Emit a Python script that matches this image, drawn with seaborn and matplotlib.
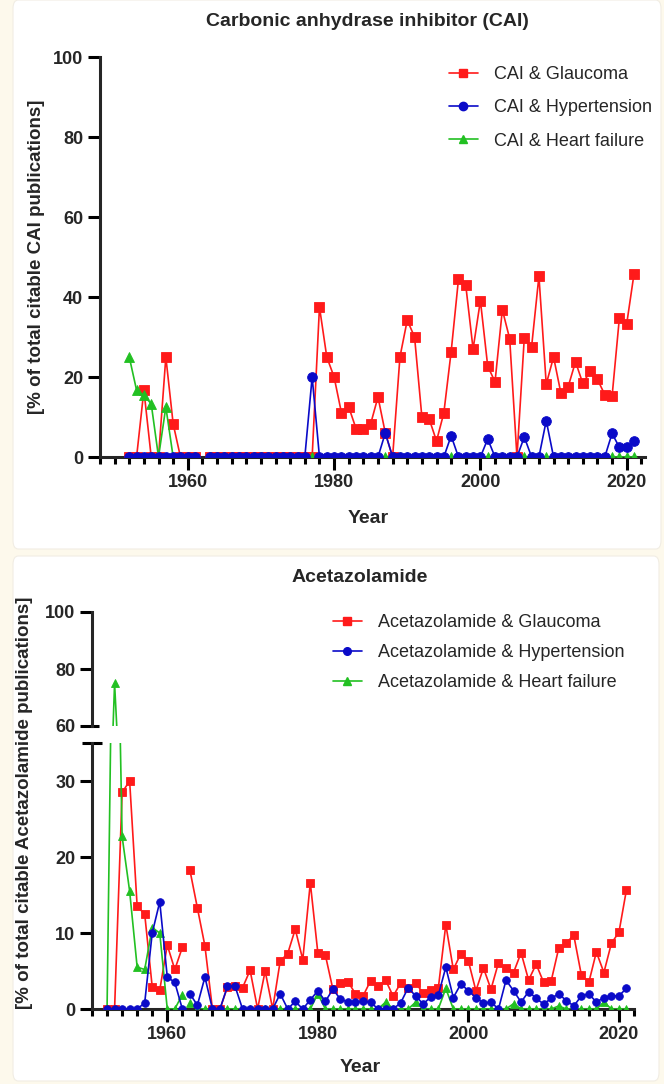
import numpy as np
import pandas as pd
import matplotlib
matplotlib.use("Agg")
import matplotlib.pyplot as plt
import seaborn as sns
from matplotlib.lines import Line2D
from matplotlib.patches import FancyBboxPatch
from matplotlib.ticker import MultipleLocator

nan = np.nan
years = list(range(1952, 2022))

# ---- Top panel: Carbonic anhydrase inhibitor (CAI) ----
cai_glaucoma = [0, 0, 16.7, 0, 0, 25, 8.3, 0, 0, 0, nan,
                0, 0, 0, 0, 0, 0, 0, 0, 0, 0, 0, 0, 0, 0,
                0, 37.5, 25, 20, 11.1, 12.5, 7.1, 7.1, 8.3, 15, 6.0, 0,
                25, 34.2, 30, 10, 9.5, 4, 11, 26.3, 44.4, 42.9, 27, 39.1,
                22.7, 18.8, 36.8, 29.6, 0, 29.8, 27.6, 45.2, 18.2, 25, 16,
                17.6, 23.8, 18.4, 21.4, 19.4, 15.6, 15.2, 34.8, 33.3, 45.8]
cai_hypertension = [0, 0, 0, 0, 0, 0, 0, 0, 0, 0, nan,
                    0, 0, 0, 0, 0, 0, 0, 0, 0, 0, 0, 0, 0, 0,
                    20, 0, 0, 0, 0, 0, 0, 0, 0, 0, 6.0, 0,
                    0, 0, 0, 0, 0, 0, 0, 5.3, 0, 0, 0, 0,
                    4.5, 0, 0, 0, 0, 5.0, 0, 0, 9.1, 0, 0,
                    0, 0, 0, 0, 0, 0, 5.9, 2.4, 2.4, 4.0]
cai_heart = [25, 16.7, 15.4, 13.3, 0, 12.5, 0, 0, 0, 0, nan,
             0, 0, 0, 0, 0, 0, 0, 0, 0, 0, 0, 0, 0, 0,
             0, 0, 0, 0, 0, 0, 0, 0, 0, 0, 0, 0,
             0, 0, 0, 0, 0, 0, 0, 0, 0, 0, 0, 0,
             0, 0, 0, 0, 0, 0, 0, 0, 0, 0, 0,
             0, 0, 0, 0, 0, 0, 0, 0, 0, 0]

# ---- Bottom panel: Acetazolamide ----
acz_glaucoma = [0, 0, 28.5, 30.0, 13.5, 12.5, 2.9, 2.5, 8.4, 5.2,
                8.1, 18.3, 13.3, 8.3, 0, 0, 2.9, 3.0, 2.8, 5.1,
                0, 5.0, 0, 6.3, 7.3, 10.5, 6.5, 16.6, 7.4, 7.1,
                2.6, 3.4, 3.6, 2.0, 1.7, 3.7, 3.0, 3.8, 1.7, 3.4,
                2.7, 3.4, 2.1, 2.5, 2.7, 11.1, 5.2, 7.3, 6.3, 2.4,
                5.4, 2.6, 6.1, 5.4, 4.8, 7.4, 3.8, 5.9, 3.5, 3.7,
                8.0, 8.7, 9.7, 4.5, 3.5, 7.5, 4.8, 8.65, 10.1, 15.7]
acz_hypertension = [0, 0, 0, 0, 0, 0.8, 10.0, 14.1, 4.2, 3.5,
                    0, 2.0, 0.5, 4.2, 0, 0, 3.0, 3.0, 0, 0,
                    0, 0, 0, 2.0, 0, 1.0, 0, 1.2, 2.4, 1.0,
                    2.6, 1.3, 0.9, 0.9, 1.0, 0.9, 0, 0, 0, 0.8,
                    2.8, 1.7, 0.65, 1.6, 1.8, 5.5, 1.5, 3.3, 2.4, 1.5,
                    0.8, 0.9, 0, 3.8, 2.4, 0.9, 2.3, 1.4, 0.65, 1.4,
                    2.0, 1.1, 0.4, 1.7, 2.0, 0.9, 1.5, 1.7, 1.75, 2.7]
acz_heart = [0, 75, 22.7, 15.5, 5.5, 5.2, 10.7, 10.0, 0, 0,
             1.9, 0.8, 0, 0, 0, 0, 0, 0, 0, 0,
             0, 0, 0, 0, 0, 0, 0, 0, 2.0, 0,
             0, 0, 0, 0, 0, 0, 0, 0.9, 0, 0,
             0, 0.9, 0, 0, 0, 2.7, 0, 0, 0, 0,
             0, 0, 0, 0, 0.7, 0, 0, 0, 0, 0,
             0.4, 0, 0, 0, 0, 0, 0.9, 0, 0, 0]

cai_labels = ["CAI & Glaucoma", "CAI & Hypertension", "CAI & Heart failure"]
acz_labels = ["Acetazolamide & Glaucoma", "Acetazolamide & Hypertension",
              "Acetazolamide & Heart failure"]

RED, BLUE, GREEN = "#ff1a1a", "#0a0ac8", "#22c022"
colors = [RED, BLUE, GREEN]
markers = ["s", "o", "^"]

sns.set_theme(style="ticks")
plt.rcParams["font.family"] = ["Liberation Sans", "DejaVu Sans"]

W, H = 664, 1084
fig = plt.figure(figsize=(W / 100, H / 100), dpi=100)
fig.patch.set_facecolor("#fdf9ec")

# white cards
for (x0, y0, x1, y1) in [(13, 0, 661, 549), (13, 556, 659, 1081)]:
    fig.patches.append(FancyBboxPatch((x0 / W, 1 - y1 / H), (x1 - x0) / W, (y1 - y0) / H,
                                      boxstyle="round,pad=0,rounding_size=0.008",
                                      transform=fig.transFigure, facecolor="white",
                                      edgecolor="#f1ede4", lw=0.8, zorder=-5))


def fax(x0, y0, x1, y1):
    return fig.add_axes([x0 / W, 1 - y1 / H, (x1 - x0) / W, (y1 - y0) / H])


def draw(ax, series, ms):
    order = [0, 2, 1]  # red, green, blue on top
    for i in order:
        df = pd.DataFrame({"year": years, "value": series[i]})
        df["seg"] = (df["year"] > 1962).astype(int)
        df = df.dropna()
        sns.lineplot(data=df, x="year", y="value", units="seg", estimator=None,
                     color=colors[i], marker=markers[i], markersize=ms,
                     markeredgecolor=colors[i], markeredgewidth=0.6,
                     linewidth=1.2, ax=ax, legend=False, zorder=3 + order.index(i),
                     clip_on=True)


def style(ax, xaxis=True):
    for s in ["top", "right"]:
        ax.spines[s].set_visible(False)
    ax.spines["left"].set_linewidth(2.2)
    ax.spines["bottom"].set_linewidth(2.2)
    ax.set_facecolor("none")
    ax.tick_params(axis="both", which="major", direction="out", length=9, width=2.2,
                   labelsize=13, color="black", pad=3)
    ax.tick_params(axis="x", which="minor", direction="out", length=5, width=2.2,
                   color="black")
    for lab in ax.get_xticklabels() + ax.get_yticklabels():
        lab.set_fontweight("bold")
    ax.set_xlabel("")
    ax.set_ylabel("")
    if not xaxis:
        ax.spines["bottom"].set_visible(False)
        ax.tick_params(axis="x", which="both", bottom=False, labelbottom=False)


# ---------- top ----------
ax1 = fax(100, 57, 645, 457)
draw(ax1, [cai_glaucoma, cai_hypertension, cai_heart], 7)
ax1.set_xlim(1948, 2022.5)
ax1.set_ylim(0, 100)
ax1.set_yticks([0, 20, 40, 60, 80, 100])
ax1.set_xticks([1960, 1980, 2000, 2020])
ax1.xaxis.set_minor_locator(MultipleLocator(2))
ax1.tick_params(axis="x", pad=7)
style(ax1)
for t in ax1.get_xticklabels() + ax1.get_yticklabels():
    t.set_fontweight("bold")

h1 = [Line2D([], [], color=c, marker=m, ms=6, lw=1.2) for c, m in zip(colors, markers)]
ax1.legend(h1, cai_labels, loc="upper left", bbox_to_anchor=(449 / W, 1 - 66 / H),
           bbox_transform=fig.transFigure, frameon=False, fontsize=13,
           handlelength=1.6, handletextpad=0.9, labelspacing=0.9,
           borderpad=0, borderaxespad=0)

fig.text(367 / W, 1 - 22 / H, "Carbonic anhydrase inhibitor (CAI)", ha="center",
         va="center", fontsize=14, fontweight="bold")
fig.text(368 / W, 1 - 518 / H, "Year", ha="center", va="center", fontsize=14,
         fontweight="bold")
fig.text(37 / W, 1 - 257 / H, "[% of total citable CAI publications]", ha="center",
         va="center", rotation=90, fontsize=13.5, fontweight="bold")

# ---------- bottom (broken y axis) ----------
ax_up = fax(92, 612, 634, 726)
ax_lo = fax(92, 743, 634, 1009)
acz = [acz_glaucoma, acz_hypertension, acz_heart]
draw(ax_up, acz, 5.5)
draw(ax_lo, acz, 5.5)
for a in (ax_up, ax_lo):
    a.set_xlim(1950, 2022)
ax_up.set_ylim(60, 100)
ax_up.set_yticks([60, 80, 100])
ax_lo.set_ylim(0, 35)
ax_lo.set_yticks([0, 10, 20, 30])
ax_lo.set_xticks([1960, 1980, 2000, 2020])
ax_lo.xaxis.set_minor_locator(MultipleLocator(2))
ax_lo.tick_params(axis="x", pad=7)
style(ax_up, xaxis=False)
style(ax_lo)
for a in (ax_up, ax_lo):
    for t in a.get_xticklabels() + a.get_yticklabels():
        t.set_fontweight("bold")

# break caps
ax_lo.plot([-0.018, 0.018], [1, 1], transform=ax_lo.transAxes, color="black",
           lw=2.2, clip_on=False, solid_capstyle="butt")
ax_up.plot([0, 0.012], [0, 0], transform=ax_up.transAxes, color="black",
           lw=2.2, clip_on=False, solid_capstyle="butt")

h2 = [Line2D([], [], color=c, marker=m, ms=5.5, lw=1.2) for c, m in zip(colors, markers)]
ax_lo.legend(h2, acz_labels, loc="upper left", bbox_to_anchor=(333 / W, 1 - 614 / H),
             bbox_transform=fig.transFigure, frameon=False, fontsize=13,
             handlelength=1.6, handletextpad=0.9, labelspacing=0.72,
             borderpad=0, borderaxespad=0)

fig.text(360 / W, 1 - 578 / H, "Acetazolamide", ha="center", va="center",
         fontsize=14, fontweight="bold")
fig.text(360 / W, 1 - 1067 / H, "Year", ha="center", va="center", fontsize=14,
         fontweight="bold")
fig.text(25 / W, 1 - 803 / H, "[% of total citable Acetazolamide publications]",
         ha="center", va="center", rotation=90, fontsize=13.5, fontweight="bold")

fig.savefig("out.png", dpi=100, facecolor=fig.get_facecolor())
